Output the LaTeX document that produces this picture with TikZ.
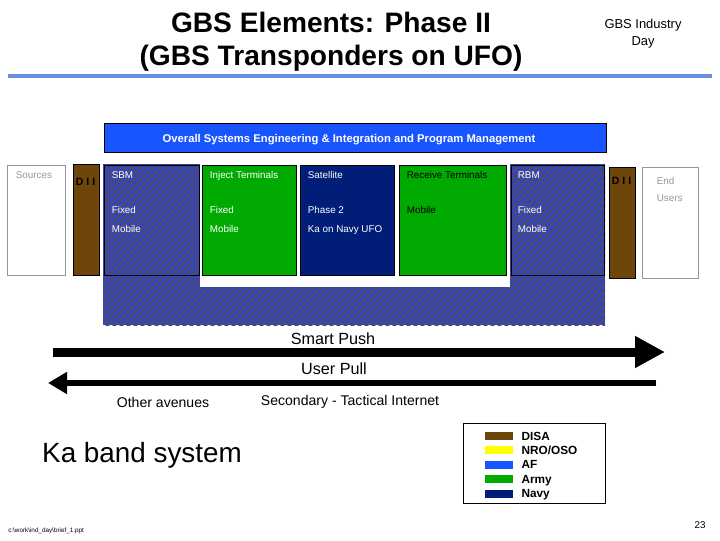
\documentclass[tikz,border=0pt]{standalone}
\usepackage{fontspec}
\setmainfont{Liberation Sans}
\usetikzlibrary{positioning, arrows.meta, calc, fit}

\definecolor{disabrown}{RGB}{110,70,10}
\definecolor{nroyellow}{RGB}{255,255,0}
\definecolor{afblue}{RGB}{25,85,255}
\definecolor{armygreen}{RGB}{0,170,0}
\definecolor{navyblue}{RGB}{0,30,120}
\definecolor{stripeblue}{RGB}{45,65,210}
\definecolor{stripegray}{RGB}{75,75,110}
\definecolor{rulecolor}{RGB}{105,145,225}
\definecolor{framegray}{RGB}{150,150,150}

\begin{document}
\begin{tikzpicture}[
        x=0.025cm, y=-0.025cm, % one unit = one pixel of the slide
        % --- STYLES ---
        % 1. Boxes of the chain
        element/.style={
                draw=black,
                line width=0.6pt,
                inner sep=0pt
            },
        % 2. Open boxes at both ends (sources, users)
        endbox/.style={
                draw=framegray,
                line width=0.6pt,
                fill=white,
                inner sep=0pt
            },
        % 3. Text inside the boxes
        boxtext/.style={
                anchor=north west,
                inner sep=0pt,
                align=left,
                text=white,
                font=\fontsize{7}{13.5}\selectfont
            },
        dii/.style={
                anchor=north west,
                inner sep=0pt,
                font=\fontsize{7.5}{9}\selectfont\bfseries
            },
        % 4. The two big arrows
        pusharrow/.style={
                line width=6.4pt,
                -{Triangle[length=0.75cm, width=0.75cm]}
            },
        pullarrow/.style={
                line width=4.3pt,
                -{Triangle[length=0.475cm, width=0.525cm]}
            },
        arrowlabel/.style={
                inner sep=0pt,
                font=\fontsize{11.5}{13}\selectfont
            },
        note/.style={
                inner sep=0pt,
                font=\fontsize{10}{12}\selectfont
            },
        % 5. Legend
        swatch/.style={
                minimum width=0.7cm,
                minimum height=0.2cm,
                inner sep=0pt
            },
        legendtext/.style={
                inner sep=0pt,
                text height=1.6ex,
                text depth=0.4ex,
                font=\fontsize{8.4}{10}\selectfont\bfseries
            }
    ]

    \useasboundingbox (0,0) rectangle (720,540);

    % 1. Title
    \node[font=\fontsize{20}{23.4}\selectfont\bfseries, align=center] (title) at (331,42)
    {GBS Elements: Phase II\\(GBS Transponders on UFO)};
    \node[font=\fontsize{9.2}{12}\selectfont, align=center] (industry) at (643,34)
    {GBS Industry\\Day};
    \draw[rulecolor, line width=2.8pt] (8,76) -- (712,76);

    % 2. Management bar
    \node[element, fill=afblue, fit={(104,123) (606,152)}] (mgmt) {};
    \node[inner sep=0pt, text=white, font=\fontsize{8}{10}\selectfont\bfseries] (mgmttext) at (349,140)
    {Overall Systems Engineering \& Integration and Program Management};

    % 3. Hatched background (SBM / RBM)
    \fill[stripeblue] (103,164) rectangle (605,325);
    \begin{scope}
        \clip (103,164) rectangle (605,325);
        \foreach \k in {-170,-163,...,610}
        \draw[stripegray, line width=1.9pt] (\k,330) -- ++(170,-170);
    \end{scope}
    \fill[white] (200,164) rectangle (510,287);

    % 4. The chain of boxes
    \node[endbox, fit={(7,165) (65,275)}] (sources) {};
    \node[element, fill=disabrown, fit={(73,164) (99,275)}] (diileft) {};
    \node[element, fit={(104,165) (199,275)}] (sbm) {};
    \node[element, fill=armygreen, fit={(202,165) (296,275)}] (inject) {};
    \node[element, fill=navyblue, fit={(300,165) (394,275)}] (satellite) {};
    \node[element, fill=armygreen, fit={(399,165) (506,275)}] (receive) {};
    \node[element, fit={(511,165) (604,275)}] (rbm) {};
    \node[element, fill=disabrown, fit={(609,167) (635,278)}] (diiright) {};
    \node[endbox, fit={(642,167) (698,278)}] (users) {};

    % Texts of the boxes
    \node[boxtext, text=framegray] (sourcestext) at ($(sources.north west)+(9,7)$) {Sources};
    \node[dii] (diilefttext) at ($(diileft.north west)+(3,14)$) {D I I};
    \node[boxtext] (sbmtext) at ($(sbm.north west)+(8,7)$) {SBM\\[11pt]Fixed\\Mobile};
    \node[boxtext] (injecttext) at ($(inject.north west)+(8,7)$) {Inject Terminals\\[11pt]Fixed\\Mobile};
    \node[boxtext] (satellitetext) at ($(satellite.north west)+(8,7)$) {Satellite\\[11pt]Phase 2\\Ka on Navy UFO};
    \node[boxtext, text=black] (receivetext) at ($(receive.north west)+(8,7)$) {Receive Terminals\\[11pt]Mobile};
    \node[boxtext] (rbmtext) at ($(rbm.north west)+(7,7)$) {RBM\\[11pt]Fixed\\Mobile};
    \node[dii] (diirighttext) at ($(diiright.north west)+(3,10.5)$) {D I I};
    \node[boxtext, text=framegray, font=\fontsize{7}{12}\selectfont] (userstext)
    at ($(users.north west)+(15,10.5)$) {End\\Users};

    % 5. Smart Push / User Pull
    \coordinate (pushstart) at (53,352);
    \coordinate (pushend) at (665,352);
    \draw[pusharrow] (pushstart) -- (pushend);
    \node[arrowlabel] (pushlabel) at (333,339) {Smart Push};

    \coordinate (pullstart) at (656,383);
    \coordinate (pullend) at (48,383);
    \draw[pullarrow] (pullstart) -- (pullend);
    \node[arrowlabel] (pulllabel) at (334,369) {User Pull};

    \node[note] (avenues) at (163,402) {Other avenues};
    \node[note] (tactical) at (350,402) {Secondary - Tactical Internet};

    \node[font=\fontsize{19.8}{22}\selectfont] (kaband) at (142,455) {Ka band system};

    % 6. Legend
    \node[draw=black, line width=0.6pt, inner sep=0pt, fit={(463,423) (605,503)}] (legend) {};
    \node[swatch, fill=disabrown] (disa) at (499,436) {};
    \node[legendtext, right=0.2cm of disa] (disalabel) {DISA};
    \node[swatch, fill=nroyellow] (nro) at (499,450) {};
    \node[legendtext, right=0.2cm of nro] (nrolabel) {NRO/OSO};
    \node[swatch, fill=afblue] (af) at (499,464.5) {};
    \node[legendtext, right=0.2cm of af] (aflabel) {AF};
    \node[swatch, fill=armygreen] (army) at (499,479) {};
    \node[legendtext, right=0.2cm of army] (armylabel) {Army};
    \node[swatch, fill=navyblue] (navy) at (499,493.5) {};
    \node[legendtext, right=0.2cm of navy] (navylabel) {Navy};

    % 7. Footer
    \node[font=\fontsize{7}{8}\selectfont] (pagenum) at (700,525) {23};
    \node[anchor=west, inner sep=0pt, font=\fontsize{4.5}{5}\selectfont] (filename) at (8,531)
    {c:\textbackslash work\textbackslash ind\_day\textbackslash brief\_1.ppt};

\end{tikzpicture}
\end{document}
